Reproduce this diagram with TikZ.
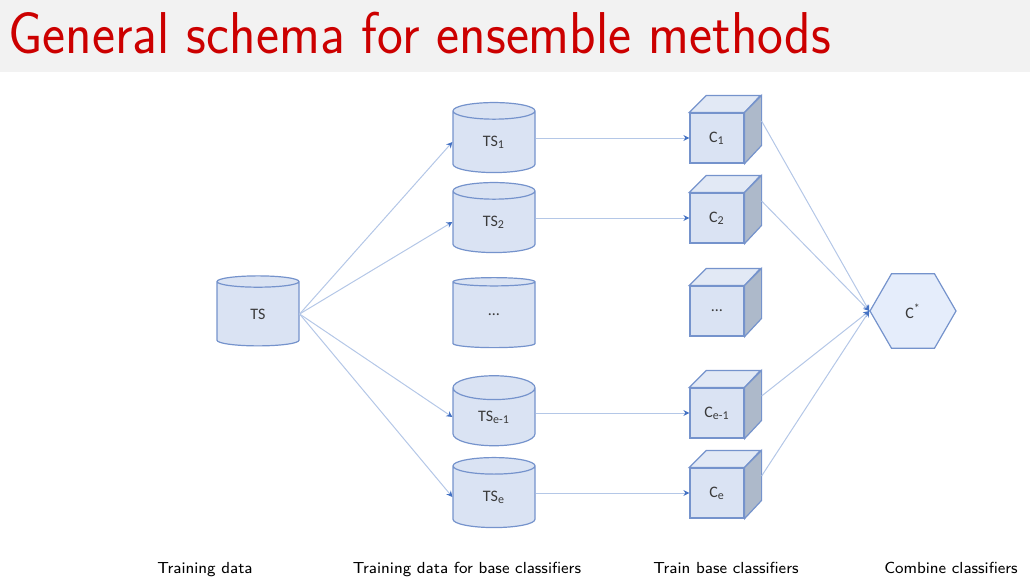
\documentclass[tikz,border=0pt]{standalone}
\usepackage{fontspec}
\newfontfamily\calibri{Carlito}
\usetikzlibrary{shapes.geometric, arrows.meta}
\definecolor{titlered}{HTML}{CC0000}
\definecolor{bandgrey}{HTML}{F2F2F2}
\definecolor{boxfill}{HTML}{DAE3F3}
\definecolor{boxline}{HTML}{7593CC}
\definecolor{sidefill}{HTML}{ADB9CA}
\definecolor{topfill}{HTML}{E2E9F5}
\definecolor{hexfill}{HTML}{E5EDFB}
\definecolor{linkblue}{HTML}{B4C7E7}
\definecolor{tipblue}{HTML}{4472C4}
\definecolor{labelgrey}{HTML}{3A3A3A}

\begin{document}
\begin{tikzpicture}[x=0.5pt, y=-0.5pt]
	\tikzstyle{db}   = [cylinder, shape border rotate=90, aspect=0.75, draw=boxline, line width=0.6pt, cylinder uses custom fill, cylinder body fill=boxfill, cylinder end fill=boxfill, minimum width=41pt, minimum height=35pt, inner sep=0pt, font=\calibri\fontsize{8}{9}\selectfont, text=labelgrey]
	\tikzstyle{cube} = [rectangle, draw=boxline, line width=0.6pt, fill=boxfill, minimum width=27pt, minimum height=25pt, inner sep=0pt, font=\calibri\fontsize{8}{9}\selectfont, text=labelgrey]
	\tikzstyle{hexa} = [regular polygon, regular polygon sides=6, draw=boxline, line width=0.6pt, fill=hexfill, minimum size=43pt, inner sep=0pt, font=\calibri\fontsize{8}{9}\selectfont, text=labelgrey]
	\tikzstyle{link} = [draw=linkblue, line width=0.5pt, -{Stealth[length=3pt, width=3pt, color=tipblue]}]
	\tikzstyle{step label} = [anchor=base, font=\sffamily\fontsize{8}{10}\selectfont]

	\useasboundingbox (0,0) rectangle (1030,585);
	\fill[bandgrey] (0,0) rectangle (1030,72);
	\node[anchor=base west, inner sep=0pt, text=titlered, font=\sffamily\fontsize{29.5}{31}\selectfont] (title) at (8,53) {\scalebox{0.93}[1]{General schema for ensemble methods}};

	% training data
	\node[db] (ts) at (258,314) {TS};

	% samples and classifiers
	\foreach \name/\y/\txt/\ctxt in {1/138/TS\textsubscript{1}/C\textsubscript{1}, 2/218/TS\textsubscript{2}/C\textsubscript{2}, d/311/\ldots/\ldots, em/413/TS\textsubscript{e-1}/C\textsubscript{e-1}, e/493/TS\textsubscript{e}/C\textsubscript{e}}
	{
		\node[db] (ts\name) at (494,\y+4) {\txt};
		\node[cube] (c\name) at (717,\y) {\ctxt};
		\filldraw[draw=boxline, line width=0.6pt, fill=topfill] (c\name.north west) -- ++(17,-17) -- ++(54,0) -- (c\name.north east) -- cycle;
		\filldraw[draw=boxline, line width=0.6pt, fill=sidefill] (c\name.north east) -- ++(17,-17) -- ++(0,50) -- (c\name.south east) -- cycle;
		\path (c\name.east) ++(17,-17) coordinate (c\name-r);
	}

	\node[hexa] (cstar) at (913,311) {C\textsuperscript{*}};

	\foreach \name in {1, 2, em, e}
	{
		\draw[link] (ts.east) -- (ts\name.west);
		\draw[link] (ts\name.east |- c\name.west) -- (c\name.west);
		\draw[link] (c\name-r) -- (cstar.west);
	}

	% steps
	\node[step label] (l1) at (205,573) {Training data};
	\node[step label] (l2) at (467,573) {Training data for base classifiers};
	\node[step label] (l3) at (726,573) {Train base classifiers};
	\node[step label] (l4) at (951,573) {Combine classifiers};
\end{tikzpicture}
\end{document}
